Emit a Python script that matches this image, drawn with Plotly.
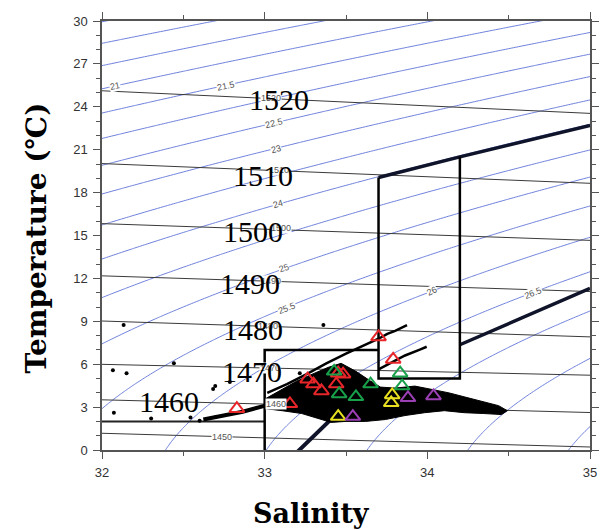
import numpy as np
import plotly.graph_objects as go

# ---------------- data ----------------
# sound-speed isolines (m/s): temperature where each line meets S=32 and S=35
sound_levels = [1450, 1460, 1470, 1480, 1490, 1500, 1510, 1520]
sound_T_at_S32 = [1.17, 3.51, 5.99, 9.02, 12.18, 15.83, 20.03, 25.12]
sound_T_at_S35 = [0.21, 2.62, 5.23, 7.91, 11.08, 14.66, 18.65, 23.54]

# large sound-speed labels
big_label_text = ["1460", "1470", "1480", "1490", "1500", "1510", "1520"]
big_label_S = [32.41, 32.92, 32.93, 32.91, 32.93, 32.99, 33.09]
big_label_T = [3.37, 5.50, 8.46, 11.63, 15.28, 19.20, 24.50]

# small (original) sound-speed labels
small_label_text = ["1450", "1460", "1470", "1480", "1490", "1500", "1510", "1520"]
small_label_S = [32.74, 33.07, 33.03, 33.02, 33.04, 33.10, 33.09, 33.04]
small_label_T = [0.89, 3.20, 5.75, 8.70, 11.80, 15.50, 19.60, 24.65]

# sigma-t isopycnal levels and their labels
sigma_levels = [19.5, 20.0, 20.5, 21.0, 21.5, 22.0, 22.5, 23.0, 23.5, 24.0, 24.5,
                25.0, 25.5, 26.0, 26.5, 27.0, 27.5, 28.0]
sigma_label_text = ["21", "21.5", "22.5", "23", "24", "25", "25.5", "26", "26.5"]
sigma_label_S = [32.08, 32.76, 33.06, 33.07, 33.08, 33.12, 33.14, 34.03, 34.65]
sigma_label_T = [25.45, 25.45, 22.90, 21.05, 17.20, 12.70, 9.90, 11.10, 11.00]
sigma_label_angle = [-12, -12, -14, -14, -16, -20, -22, -27, -22]

# thick water-mass boundary lines
thickA_S = [33.70, 34.20, 35.00]
thickA_T = [19.06, 20.50, 22.70]
thickB_S = [34.20, 34.65, 35.00]
thickB_T = [7.36, 9.60, 11.30]
thickC_S = [33.186, 33.276, 33.482]
thickC_T = [-0.30, 0.69, 2.96]

# box outlines
boxT2_S = [32.0, 33.0]
boxT2_T = [2.0, 2.0]
box_S = [33.0, 33.0, 33.7, None, 33.7, 33.7, 34.2, 34.2]
box_T = [0.0, 7.0, 7.0, None, 19.06, 5.0, 5.0, 20.5]

# dense CTD cloud outline
cloud_S = [33.004, 33.107, 33.198, 33.306, 33.391, 33.470, 33.561, 33.651, 33.712,
           33.802, 33.923, 34.044, 34.135, 34.226, 34.347, 34.438, 34.492,
           34.456, 34.347, 34.226, 34.105, 33.984, 33.863, 33.742, 33.621, 33.500,
           33.409, 33.331, 33.228, 33.107, 33.004]
cloud_T = [3.58, 4.27, 4.82, 5.37, 5.78, 6.06, 5.50, 4.82, 4.40,
           4.33, 4.47, 4.20, 3.99, 3.72, 3.37, 3.10, 2.75,
           2.48, 2.55, 2.61, 2.75, 2.61, 2.41, 2.13, 2.00, 2.00,
           1.93, 2.20, 2.55, 2.75, 2.89]

# streaks of CTD points
streakA_S = [32.623, 32.744, 32.865, 33.004]
streakA_T = [2.13, 2.41, 2.68, 3.10]
streakB_S = [33.016, 33.137, 33.258, 33.379, 33.500, 33.621, 33.700, 33.754, 33.802, 33.875]
streakB_T = [3.99, 4.61, 5.30, 6.06, 6.74, 7.36, 7.78, 8.12, 8.33, 8.74]
streakC_S = [33.700, 33.772, 33.863, 33.954, 33.996]
streakC_T = [5.64, 6.06, 6.61, 7.02, 7.22]

# scattered single CTD points
dots_S = [32.133, 33.361, 32.067, 32.151, 32.442, 32.073, 32.302, 32.544,
          32.683, 32.696, 32.786, 33.216, 32.60, 32.70]
dots_T = [8.74, 8.74, 5.57, 5.37, 6.06, 2.61, 2.20, 2.27,
          4.27, 4.47, 4.75, 5.37, 2.05, 2.30]

# bottle samples (open triangles)
red_S = [33.700, 33.790, 33.155, 32.829, 33.264, 33.300, 33.349, 33.452, 33.482, 33.440]
red_T = [7.91, 6.33, 3.23, 2.89, 4.95, 4.61, 4.13, 5.37, 5.30, 4.61]
green_S = [33.427, 33.651, 33.833, 33.845, 33.458, 33.561]
green_T = [5.50, 4.61, 5.37, 4.47, 3.92, 3.72]
yellow_S = [33.784, 33.778, 33.452]
yellow_T = [3.85, 3.30, 2.34]
purple_S = [33.542, 33.881, 34.038]
purple_T = [2.34, 3.65, 3.78]

# ---------------- sigma-t field (UNESCO EOS-80, p=0) ----------------
def sigma_t(S, T):
    rw = (999.842594 + 6.793952e-2 * T - 9.095290e-3 * T**2 + 1.001685e-4 * T**3
          - 1.120083e-6 * T**4 + 6.536332e-9 * T**5)
    A = 8.24493e-1 - 4.0899e-3 * T + 7.6438e-5 * T**2 - 8.2467e-7 * T**3 + 5.3875e-9 * T**4
    B = -5.72466e-3 + 1.0227e-4 * T - 1.6546e-6 * T**2
    C = 4.8314e-4
    return rw + A * S + B * S**1.5 + C * S**2 - 1000.0

S_grid = np.linspace(31.9, 35.1, 161)
T_grid = np.linspace(-0.5, 30.5, 156)
SS, TT = np.meshgrid(S_grid, T_grid)
Z = sigma_t(SS, TT)

fig = go.Figure()

blue = "rgb(95,115,215)"
fig.add_trace(go.Contour(
    x=S_grid, y=T_grid, z=Z,
    contours=dict(start=sigma_levels[0], end=sigma_levels[-1], size=0.5, coloring="lines",
                  showlabels=False),
    colorscale=[[0, blue], [1, blue]], showscale=False,
    line=dict(width=0.9), hoverinfo="skip"))

# sound-speed lines
for lv, t0, t1 in zip(sound_levels, sound_T_at_S32, sound_T_at_S35):
    fig.add_trace(go.Scatter(x=[32.0, 35.0], y=[t0, t1], mode="lines",
                             line=dict(color="#3a3a3a", width=1), hoverinfo="skip",
                             showlegend=False))

# thick lines
for xs, ys, w in [(thickA_S, thickA_T, 3.5), (thickB_S, thickB_T, 3.5), (thickC_S, thickC_T, 4)]:
    fig.add_trace(go.Scatter(x=xs, y=ys, mode="lines", line=dict(color="#10142a", width=w),
                             hoverinfo="skip", showlegend=False))

# boxes
fig.add_trace(go.Scatter(x=boxT2_S, y=boxT2_T, mode="lines",
                         line=dict(color="#222", width=2), hoverinfo="skip", showlegend=False))
fig.add_trace(go.Scatter(x=box_S, y=box_T, mode="lines",
                         line=dict(color="black", width=2.5), hoverinfo="skip", showlegend=False))

# CTD cloud
fig.add_trace(go.Scatter(x=cloud_S + [cloud_S[0]], y=cloud_T + [cloud_T[0]], mode="lines",
                         fill="toself", fillcolor="black", line=dict(color="black", width=1),
                         hoverinfo="skip", showlegend=False))
for xs, ys, w in [(streakA_S, streakA_T, 4), (streakB_S, streakB_T, 2.5), (streakC_S, streakC_T, 2.5)]:
    fig.add_trace(go.Scatter(x=xs, y=ys, mode="lines", line=dict(color="black", width=w),
                             hoverinfo="skip", showlegend=False))
fig.add_trace(go.Scatter(x=dots_S, y=dots_T, mode="markers",
                         marker=dict(color="black", size=4), hoverinfo="skip", showlegend=False))

# triangles
for xs, ys, col in [(red_S, red_T, "#e8262a"), (green_S, green_T, "#18a04a"),
                    (yellow_S, yellow_T, "#e8e020"), (purple_S, purple_T, "#9b3fb5")]:
    fig.add_trace(go.Scatter(x=xs, y=ys, mode="markers",
                             marker=dict(symbol="triangle-up-open", size=13, color=col,
                                         line=dict(width=2, color=col)),
                             hoverinfo="skip", showlegend=False))

ann = []
for txt, s, t, a in zip(sigma_label_text, sigma_label_S, sigma_label_T, sigma_label_angle):
    ann.append(dict(x=s, y=t, xref="x", yref="y", text=txt, showarrow=False, textangle=a,
                    font=dict(family="Liberation Sans, Arial", size=9, color="#555"),
                    bgcolor="white", borderpad=0))
for txt, s, t in zip(small_label_text, small_label_S, small_label_T):
    ann.append(dict(x=s, y=t, xref="x", yref="y", text=txt, showarrow=False,
                    font=dict(family="Liberation Sans, Arial", size=9, color="#555"),
                    bgcolor="white", borderpad=0))
for txt, s, t in zip(big_label_text, big_label_S, big_label_T):
    ann.append(dict(x=s, y=t, xref="x", yref="y", text=txt, showarrow=False,
                    font=dict(family="Liberation Serif, Times New Roman, serif", size=30,
                              color="black")))
ann.append(dict(x=0.4294, y=-0.147, xref="paper", yref="paper", text="<b>Salinity</b>",
                showarrow=False, xanchor="center", yanchor="middle",
                font=dict(family="DejaVu Serif, serif", size=27, color="black")))
ann.append(dict(x=-0.135, y=0.493, xref="paper", yref="paper", text="<b>Temperature (℃)</b>",
                showarrow=False, xanchor="center", yanchor="middle", textangle=-90,
                font=dict(family="DejaVu Serif, serif", size=28, color="black")))

axis_common = dict(showgrid=False, zeroline=False, showline=True, linecolor="#555",
                   linewidth=1.5, mirror="ticks", ticks="outside", ticklen=7, tickwidth=1,
                   tickcolor="#555", ticklabelstandoff=3,
                   tickfont=dict(family="Liberation Sans, Arial", size=13, color="#333"))
fig.update_layout(
    width=611, height=530, margin=dict(l=102, r=13, t=14, b=80),
    paper_bgcolor="white", plot_bgcolor="white", showlegend=False,
    xaxis=dict(range=[32, 35], tickvals=[32, 33, 34, 35],
               minor=dict(tick0=32, dtick=0.5, ticks="outside", ticklen=4, tickcolor="#555"),
               **axis_common),
    yaxis=dict(range=[0, 30], tick0=0, dtick=3,
               minor=dict(tick0=0, dtick=1, ticks="outside", ticklen=4, tickcolor="#555"),
               **axis_common),
    annotations=ann,
)
fig.write_html("out.html")
